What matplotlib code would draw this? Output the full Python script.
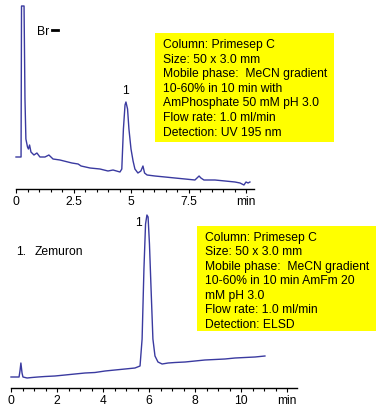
import matplotlib
matplotlib.use("Agg")
import matplotlib.pyplot as plt
import numpy as np
from matplotlib.patches import Rectangle
from matplotlib.lines import Line2D
from matplotlib.ticker import FixedLocator

plt.rcParams['font.family'] = ['Liberation Sans', 'DejaVu Sans']

W, H = 378, 414
FS = 8.7
LINE_COLOR = '#3a3aa0'

# ---- top chromatogram (UV 195 nm) ----
top_time = [0.0, 0.22, 0.24, 0.35, 0.39, 0.43, 0.50, 0.54, 0.59, 0.65, 0.78, 0.91, 1.04,
            1.26, 1.43, 1.61, 1.91, 2.43, 2.70, 2.83, 3.22, 3.65, 4.00, 4.22, 4.52, 4.60,
            4.67, 4.74, 4.78, 4.85, 4.91, 5.00, 5.09, 5.17, 5.30, 5.43, 5.52, 5.59, 5.70,
            6.04, 6.48, 6.91, 7.35, 7.78, 7.96, 8.04, 8.17, 8.65, 9.09, 9.52, 9.74, 9.91,
            10.00, 10.09, 10.17]
top_signal = [32, 32, 183, 183, 90, 50, 42, 40, 44, 37, 34, 36, 32,
              32, 34, 30, 29, 26, 25, 23, 21, 20, 18, 19, 17, 20,
              60, 84, 87, 80, 60, 40, 28, 20, 16, 18, 23, 16, 14,
              13, 12, 11, 10, 9, 13, 11, 9, 9, 8, 7, 6, 4,
              7, 6, 7]
top_ticks = [0, 2.5, 5, 7.5, 10]
top_ticklabels = ['0', '2.5', '5', '7.5', 'min']

# ---- bottom chromatogram (ELSD) ----
bot_time = [0.00, 0.35, 0.39, 0.43, 0.48, 0.52, 0.70, 0.91, 1.17, 1.48, 1.91, 2.35, 2.78,
            3.22, 3.65, 4.09, 4.52, 4.96, 5.39, 5.61, 5.70, 5.78, 5.85, 5.91, 5.96, 6.02,
            6.09, 6.17, 6.26, 6.39, 6.57, 6.83, 7.13, 7.57, 8.00, 8.43, 8.87, 9.30, 9.74,
            10.17, 10.61, 11.04]
bot_signal = [11, 11, 17, 25, 15, 11, 10, 10.5, 11, 11.5, 12, 13, 14,
              15, 15.5, 17, 18, 19, 20, 22, 49, 119, 164, 173, 171, 144,
              99, 49, 32, 26, 24, 25, 25.5, 26, 27, 28, 28.5, 29, 30,
              30.5, 31, 32]
bot_ticks = [0, 2, 4, 6, 8, 10, 12]
bot_ticklabels = ['0', '2', '4', '6', '8', '10', 'min']

top_info = ["Column: Primesep C", "Size: 50 x 3.0 mm", "Mobile phase:  MeCN gradient",
            "10-60% in 10 min with", "AmPhosphate 50 mM pH 3.0", "Flow rate: 1.0 ml/min",
            "Detection: UV 195 nm"]
bot_info = ["Column: Primesep C", "Size: 50 x 3.0 mm", "Mobile phase:  MeCN gradient",
            "10-60% in 10 min AmFm 20", "mM pH 3.0", "Flow rate: 1.0 ml/min",
            "Detection: ELSD"]

fig = plt.figure(figsize=(W / 100, H / 100), dpi=100)


def fx(px):
    return px / W


def fy(py):
    return 1 - py / H


def make_axes(x0_px, axis_y_px, top_px, ymax, spine_end):
    ax = fig.add_axes([0, fy(axis_y_px), 1, (axis_y_px - top_px) / H])
    ax.set_xlim(-x0_px / 23.0, (W - x0_px) / 23.0)
    ax.set_ylim(0, ymax)
    for s in ['top', 'right', 'left']:
        ax.spines[s].set_visible(False)
    ax.spines['bottom'].set_bounds(0, spine_end)
    ax.spines['bottom'].set_linewidth(1.0)
    ax.set_yticks([])
    ax.patch.set_alpha(0)
    ax.tick_params(axis='x', which='major', length=3, width=0.8, pad=1.5, labelsize=FS)
    ax.tick_params(axis='x', which='minor', length=2, width=0.8)
    ax.xaxis.set_minor_locator(FixedLocator(np.arange(0, spine_end + 0.01, 0.5)))
    return ax


ax1 = make_axes(16, 190, 0, 190, 10.35)
ax1.plot(top_time, top_signal, color=LINE_COLOR, lw=1.0, clip_on=False)
ax1.xaxis.set_major_locator(FixedLocator(top_ticks))
ax1.set_xticklabels(top_ticklabels)

ax2 = make_axes(11, 389, 210, 179, 12.43)
ax2.plot(bot_time, bot_signal, color=LINE_COLOR, lw=1.0, clip_on=False)
ax2.xaxis.set_major_locator(FixedLocator(bot_ticks))
ax2.set_xticklabels(bot_ticklabels)


def info_box(x0, y0, x1, y1, tx, ty0, step, lines):
    fig.add_artist(Rectangle((fx(x0), fy(y1)), fx(x1) - fx(x0), (y1 - y0) / H,
                             transform=fig.transFigure, facecolor='#ffff00',
                             edgecolor='none', zorder=0.5))
    for i, t in enumerate(lines):
        fig.text(fx(tx), fy(ty0 + i * step), t, fontsize=FS, ha='left', va='center')


info_box(155, 34, 334, 143, 163, 45, 14.6, top_info)
info_box(197, 227, 376, 332, 205, 238, 14.5, bot_info)

fig.text(fx(37), fy(32), "Br", fontsize=FS, ha='left', va='center')
fig.add_artist(Line2D([fx(52), fx(57.5)], [fy(31), fy(31)], color='black', lw=2.0,
                      transform=fig.transFigure))
fig.text(fx(125), fy(91), "1", fontsize=FS, ha='center', va='center')
fig.text(fx(138), fy(223), "1", fontsize=FS, ha='center', va='center')
fig.text(fx(16), fy(252), "1.", fontsize=FS, ha='left', va='center')
fig.text(fx(35), fy(252), "Zemuron", fontsize=FS, ha='left', va='center')

fig.savefig("out.png", dpi=100, facecolor='white')
